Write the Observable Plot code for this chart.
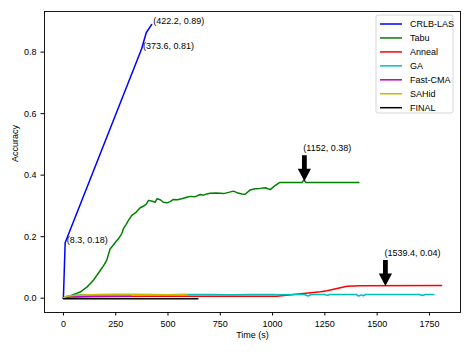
<!DOCTYPE html>
<html>
<head>
<meta charset="utf-8">
<script src="https://cdn.jsdelivr.net/npm/d3@7"></script>
<script src="https://cdn.jsdelivr.net/npm/@observablehq/plot@0.6"></script>
<style>
  html, body { margin: 0; padding: 0; background: #fff; }
  #chart { position: relative; width: 471px; height: 353px; }
</style>
</head>
<body>
<div id="chart"></div>
<script>
// ---- data (time in s, accuracy) ----
const seriesNames = ["CRLB-LAS", "Tabu", "Anneal", "GA", "Fast-CMA", "SAHid", "FINAL"];
const seriesColors = ["#0000ff", "#008000", "#ff0000", "#00bfbf", "#bf00bf", "#bfbf00", "#000000"];

const crlbLas = [[0,0],[8.3,0.18],[373.6,0.81],[396,0.863],[422.2,0.89]];
const tabu = [[0,0],[20,0.003],[48,0.012],[60,0.015],[80,0.02],[96,0.028],[112,0.036],[128,0.047],
  [145,0.06],[160,0.074],[176,0.09],[192,0.106],[207,0.123],[223,0.16],[235,0.17],[247,0.18],
  [263,0.193],[279,0.21],[287,0.226],[300,0.24],[311,0.253],[320,0.262],[327,0.269],[345,0.278],
  [367,0.294],[380,0.298],[395,0.305],[407,0.318],[425,0.315],[439,0.312],[447,0.323],[463,0.32],
  [478,0.312],[495,0.31],[510,0.314],[526,0.321],[545,0.32],[566,0.323],[590,0.328],[606,0.331],
  [630,0.33],[654,0.337],[670,0.335],[686,0.339],[702,0.341],[730,0.342],[750,0.341],[766,0.34],
  [790,0.344],[813,0.348],[830,0.343],[853,0.339],[869,0.338],[893,0.352],[917,0.356],[940,0.357],
  [965,0.359],[989,0.353],[1013,0.367],[1033,0.376],[1140,0.376],[1150,0.384],[1160,0.376],[1412,0.376]];
const anneal = [[0,0],[20,0.004],[100,0.005],[400,0.006],[800,0.006],[1020,0.006],[1230,0.021],
  [1260,0.024],[1356,0.039],[1420,0.0405],[1808,0.041]];
const ga = [[0,0],[15,0.006],[40,0.009],[80,0.010],[150,0.011],[250,0.012],[400,0.012],[500,0.011],
  [600,0.012],[700,0.012],[800,0.011],[900,0.012],[1000,0.012],[1050,0.011],[1100,0.012],[1152,0.012],
  [1168,0.007],[1185,0.012],[1250,0.012],[1260,0.009],[1275,0.012],[1400,0.012],[1412,0.007],
  [1424,0.011],[1434,0.008],[1445,0.012],[1700,0.012],[1718,0.009],[1730,0.012],[1770,0.012]];
const fastCma = [[0,0],[20,0.004],[60,0.005],[150,0.006],[250,0.006],[324,0.006]];
const saHid = [[0,0],[15,0.006],[50,0.009],[120,0.011],[200,0.012],[300,0.012],[400,0.011],
  [500,0.011],[590,0.012]];
const finalS = [[0,-0.002],[643,-0.002]];

const seriesData = [crlbLas, tabu, anneal, ga, fastCma, saHid, finalS];

const pointLabels = [
  {t: 8.3, acc: 0.18, text: "(8.3, 0.18)"},
  {t: 373.6, acc: 0.81, text: "(373.6, 0.81)"},
  {t: 422.2, acc: 0.89, text: "(422.2, 0.89)"}
];
const arrowLabels = [
  {t: 1152, acc: 0.38, text: "(1152, 0.38)"},
  {t: 1539.4, acc: 0.04, text: "(1539.4, 0.04)"}
];

const xTicks = [0, 250, 500, 750, 1000, 1250, 1500, 1750];
const yTicks = [0.0, 0.2, 0.4, 0.6, 0.8];

// ---- table ----
const rows = [];
seriesData.forEach((s, i) => s.forEach(([t, acc]) => rows.push({series: seriesNames[i], t, acc})));

// filled arrow shape (points up before rotation)
const blockArrow = {
  draw(context, l) {
    const sw = 2.4, hw = 6.6, hl = 12.5;
    context.moveTo(-sw, 0);
    context.lineTo(-sw, -(l - hl));
    context.lineTo(-hw, -(l - hl));
    context.lineTo(0, -l);
    context.lineTo(hw, -(l - hl));
    context.lineTo(sw, -(l - hl));
    context.lineTo(sw, 0);
    context.closePath();
  }
};

const font = "Liberation Sans, Arial, sans-serif";

const chart = Plot.plot({
  width: 471,
  height: 353,
  marginLeft: 44,
  marginRight: 11,
  marginTop: 11,
  marginBottom: 41,
  style: {fontFamily: font, fontSize: "9px", background: "#fff", color: "#000", overflow: "visible"},
  x: {domain: [-90.4, 1898.4]},
  y: {domain: [-0.0465, 0.932]},
  color: {domain: seriesNames, range: seriesColors},
  marks: [
    Plot.line(rows, {x: "t", y: "acc", z: "series", stroke: "series", strokeWidth: 1.5,
      strokeLinejoin: "round", curve: "linear"}),
    Plot.frame({stroke: "#000", strokeWidth: 0.9}),
    Plot.axisX({ticks: xTicks, tickSize: 3.5, tickPadding: 4.5, label: null, fontSize: 9,
      tickFormat: d3.format("d")}),
    Plot.axisY({ticks: yTicks, tickSize: 3.5, tickPadding: 4.5, label: null, fontSize: 9,
      tickFormat: d3.format(".1f")}),
    Plot.text(["Time (s)"], {frameAnchor: "bottom", dy: 25, fontSize: 9}),
    Plot.text(["Accuracy"], {frameAnchor: "left", dx: -29, rotate: -90, fontSize: 9}),
    Plot.text(pointLabels, {x: "t", y: "acc", text: "text", textAnchor: "start", dx: 1.5, dy: -3, fontSize: 9}),
    Plot.vector(arrowLabels, {x: "t", y: "acc", length: 26, rotate: 180, anchor: "end",
      shape: blockArrow, fill: "#000", stroke: "none"}),
    Plot.text(arrowLabels, {x: "t", y: "acc", text: "text", textAnchor: "start", dx: -1, dy: -33, fontSize: 9})
  ]
});

document.getElementById("chart").appendChild(chart);

// ---- legend (inside the axes, upper right) ----
const svg = d3.select(chart);
const lg = svg.append("g").attr("font-family", font).attr("font-size", 9).attr("text-anchor", "start");
const lx = 376, ly = 15, lw = 77, lh = 98, rowH = 13.95;
lg.append("rect").attr("x", lx).attr("y", ly).attr("width", lw).attr("height", lh)
  .attr("rx", 2).attr("fill", "#fff").attr("fill-opacity", 0.8)
  .attr("stroke", "#cccccc").attr("stroke-width", 0.8);
seriesNames.forEach((name, i) => {
  const yy = ly + 9 + i * rowH;
  lg.append("line").attr("x1", lx + 4).attr("x2", lx + 26).attr("y1", yy).attr("y2", yy)
    .attr("stroke", seriesColors[i]).attr("stroke-width", 1.5);
  lg.append("text").attr("x", lx + 34).attr("y", yy).attr("dy", "0.35em")
    .attr("text-anchor", "start").attr("fill", "#000").text(name);
});
</script>
</body>
</html>
